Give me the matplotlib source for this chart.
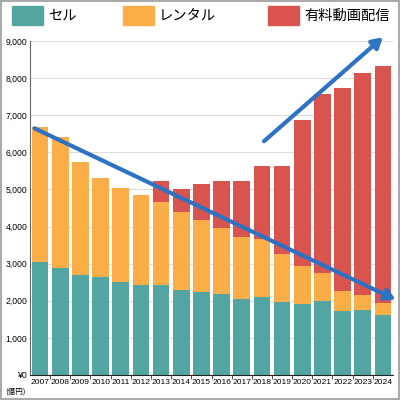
import matplotlib
matplotlib.use("Agg")
import matplotlib.pyplot as plt
from matplotlib.patches import Rectangle

plt.rcParams['font.family'] = ['Noto Sans CJK JP', 'DejaVu Sans']

years = [str(y) for y in range(2007, 2025)]
sell = [3040, 2880, 2690, 2630, 2500, 2420, 2420, 2290, 2250, 2180,
        2050, 2100, 1980, 1900, 2000, 1720, 1750, 1610]
rental = [3630, 3520, 3060, 2670, 2550, 2420, 2230, 2090, 1940, 1780,
          1660, 1560, 1270, 1040, 740, 540, 400, 340]
streaming = [0, 0, 0, 0, 0, 0, 570, 620, 950, 1260,
             1530, 1960, 2380, 3940, 4840, 5480, 6000, 6380]
labels = ['セル', 'レンタル', '有料動画配信']
colors = ['#52a5a1', '#fbae48', '#d9534f']
yticks = [0, 1000, 2000, 3000, 4000, 5000, 6000, 7000, 8000, 9000]

fig = plt.figure(figsize=(4, 4), dpi=100)
ax = fig.add_axes([0.075, 0.0625, 0.9075, 0.835])

x = list(range(len(years)))
b2 = [s + r for s, r in zip(sell, rental)]
ax.bar(x, sell, width=0.82, color=colors[0], zorder=2)
ax.bar(x, rental, bottom=sell, width=0.82, color=colors[1], zorder=2)
ax.bar(x, streaming, bottom=b2, width=0.82, color=colors[2], zorder=2)

num_font = ['Liberation Sans', 'DejaVu Sans']
ax.set_xlim(-0.5, 17.5)
ax.set_ylim(0, 9000)
ax.set_yticks(yticks)
ax.set_yticklabels(['¥0'] + [f'{v:,}' for v in yticks[1:]], fontsize=6.2, family=num_font)
ax.set_xticks(x)
ax.set_xticklabels(years, fontsize=6.1, family=num_font)
ax.set_xticks([i + 0.5 for i in x[:-1]], minor=True)
ax.tick_params(axis='x', which='major', length=0, pad=3)
ax.tick_params(axis='x', which='minor', length=3, direction='out', color='#333333')
ax.tick_params(axis='y', length=0, pad=2)
ax.grid(axis='y', color='#dddddd', linewidth=0.8, zorder=0)
for s in ['top', 'right']:
    ax.spines[s].set_visible(False)
ax.spines['left'].set_color('#666666')
ax.spines['bottom'].set_color('#222222')
fig.text(0.04, 0.022, '(億円)', fontsize=5.5, ha='center', va='center')

# trend arrows
arrow_kw = dict(arrowstyle='-|>,head_length=0.6,head_width=0.35', color='#2e72c4', lw=3)
ax.annotate('', xy=(17.75, 2000), xytext=(-0.4, 6680), arrowprops=arrow_kw,
            annotation_clip=False, zorder=5)
ax.annotate('', xy=(17.1, 9150), xytext=(11.0, 6250), arrowprops=arrow_kw,
            annotation_clip=False, zorder=5)

# legend
lx = [0.03, 0.307, 0.67]
for i in range(3):
    fig.patches.append(Rectangle((lx[i], 0.938), 0.077, 0.047, transform=fig.transFigure,
                                 color=colors[i], figure=fig))
    fig.text(lx[i] + 0.09, 0.961, labels[i], fontsize=10.3, va='center')

fig.patches.append(Rectangle((0.002, 0.002), 0.996, 0.996, transform=fig.transFigure,
                             fill=False, edgecolor='#aaaaaa', lw=1.5, figure=fig))

fig.savefig('out.png', dpi=100)
